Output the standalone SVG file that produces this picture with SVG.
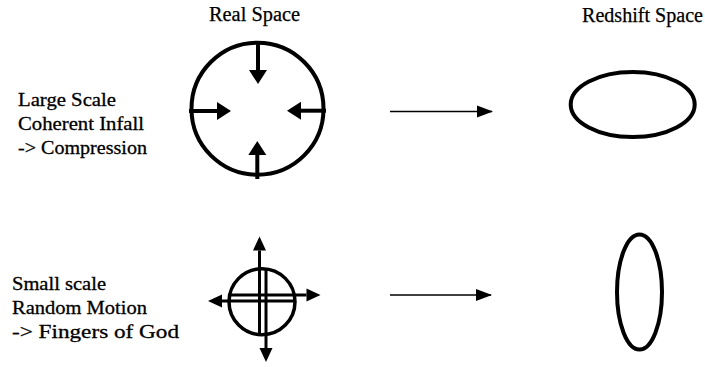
<svg xmlns="http://www.w3.org/2000/svg" width="705" height="367" viewBox="0 0 705 367">
  <style>
    .lbl { font-family: "Liberation Serif", "DejaVu Serif", serif; font-size: 19px; fill: #000; stroke: #000; stroke-width: 0.3; }
    .hdr { font-family: "Liberation Serif", "DejaVu Serif", serif; font-size: 20px; fill: #000; stroke: #000; stroke-width: 0.25; }
    .shape { fill: none; stroke: #000; stroke-width: 4; }
    .thick { stroke: #000; stroke-width: 4; fill: none; marker-end: url(#headBig); }
    .cross-a { stroke: #000; stroke-width: 3; fill: none; marker-end: url(#headSmall); }
    .conn { stroke: #000; stroke-width: 1.3; fill: none; marker-end: url(#headThin); }
  </style>
  <defs>
    <marker id="headBig" markerUnits="userSpaceOnUse" markerWidth="15" markerHeight="18" refX="0" refY="9" orient="auto" overflow="visible">
      <path d="M0,0 L14,9 L0,18 Z" fill="#000"/>
    </marker>
    <marker id="headSmall" markerUnits="userSpaceOnUse" markerWidth="15" markerHeight="13" refX="0" refY="6.5" orient="auto" overflow="visible">
      <path d="M0,0 L14,6.5 L0,13 Z" fill="#000"/>
    </marker>
    <marker id="headThin" markerUnits="userSpaceOnUse" markerWidth="16" markerHeight="12" refX="15" refY="6" orient="auto" overflow="visible">
      <path d="M0,0 L16,6 L0,12 Z" fill="#000"/>
    </marker>
  </defs>

  <g id="headers">
    <text class="hdr" x="209" y="21" textLength="91" lengthAdjust="spacingAndGlyphs">Real Space</text>
    <text class="hdr" x="582" y="22" textLength="121" lengthAdjust="spacingAndGlyphs">Redshift Space</text>
  </g>

  <g id="label-large">
    <text class="lbl" x="18" y="106" textLength="98" lengthAdjust="spacingAndGlyphs">Large Scale</text>
    <text class="lbl" x="18" y="130" textLength="126" lengthAdjust="spacingAndGlyphs">Coherent Infall</text>
    <text class="lbl" x="18" y="154" textLength="129" lengthAdjust="spacingAndGlyphs">-&gt; Compression</text>
  </g>

  <g id="label-small">
    <text class="lbl" x="12" y="290" textLength="94" lengthAdjust="spacingAndGlyphs">Small scale</text>
    <text class="lbl" x="12" y="314" textLength="135" lengthAdjust="spacingAndGlyphs">Random Motion</text>
    <text class="lbl" x="12" y="338" textLength="167" lengthAdjust="spacingAndGlyphs">-&gt; Fingers of God</text>
  </g>

  <g id="real-infall">
    <circle class="shape" cx="257.5" cy="108.7" r="66"/>
    <line class="thick" x1="258" y1="42" x2="258" y2="70"/>
    <line class="thick" x1="189" y1="111" x2="217" y2="111"/>
    <line class="thick" x1="326" y1="110.7" x2="301" y2="110.7"/>
    <line class="thick" x1="257.3" y1="179" x2="257.3" y2="155"/>
  </g>

  <g id="real-random">
    <circle class="shape" cx="262" cy="301.7" r="33" style="stroke-width:3.5"/>
    <line class="cross-a" x1="259.5" y1="335" x2="259.5" y2="250.5"/>
    <line class="cross-a" x1="266" y1="268" x2="266" y2="348"/>
    <line class="cross-a" x1="228" y1="295" x2="306.5" y2="295"/>
    <line class="cross-a" x1="296" y1="301" x2="222" y2="301"/>
  </g>

  <g id="redshift-infall">
    <ellipse class="shape" cx="632.7" cy="104.5" rx="62" ry="32.5"/>
  </g>

  <g id="redshift-random">
    <ellipse class="shape" cx="639.5" cy="292" rx="22.5" ry="57.5"/>
  </g>

  <g id="connectors">
    <line class="conn" x1="390" y1="111.5" x2="492" y2="111.5"/>
    <line class="conn" x1="390" y1="295" x2="491" y2="295"/>
  </g>
</svg>
